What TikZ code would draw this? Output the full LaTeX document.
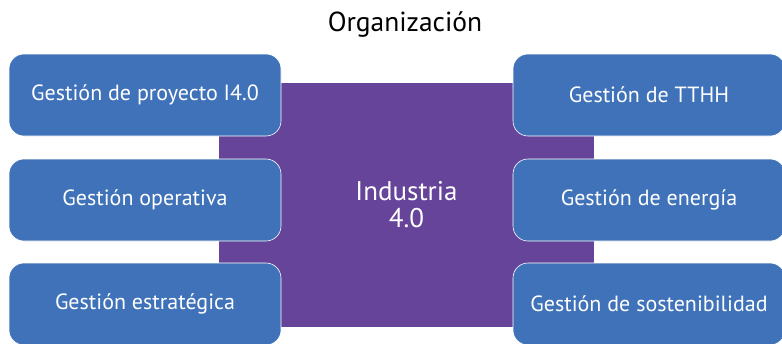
\documentclass[tikz,border=0pt]{standalone}
\usepackage{fontspec}
\setmainfont{PT Sans}
\usepackage{tikz}

\definecolor{boxblue}{HTML}{4072B9}
\definecolor{corepurple}{HTML}{65449A}

\tikzset{
  area/.style={rectangle, rounded corners=15pt, fill=boxblue, draw=white,
    line width=0.6pt, minimum width=272pt, minimum height=82pt,
    text=white, font=\fontsize{22}{24}\selectfont},
  core/.style={rectangle, fill=corepurple, minimum width=375pt,
    minimum height=244pt, text=white, align=center,
    font=\fontsize{27}{27}\selectfont}
}

\begin{document}
\begin{tikzpicture}[x=1pt, y=-1pt]
  \useasboundingbox (0, 0) rectangle (782, 343);
  \clip (0, 0) rectangle (782, 343);
  \node (title) at (405, 25) {\fontsize{27.5}{30}\selectfont Organización};
  \node[core] (ind) at (406.5, 205) {Industria\\4.0};
  % left column
  \node[area] (proy) at (145, 95)  {Gestión de proyecto I4.0};
  \node[area] (oper) at (145, 200) {Gestión operativa};
  \node[area] (estr) at (145, 304) {Gestión estratégica};
  % right column
  \node[area] (tthh) at (649, 95)  {Gestión de TTHH};
  \node[area] (ener) at (649, 200) {Gestión de energía};
  \node[area] (sost) at (649, 304) {Gestión de sostenibilidad};
\end{tikzpicture}
\end{document}
